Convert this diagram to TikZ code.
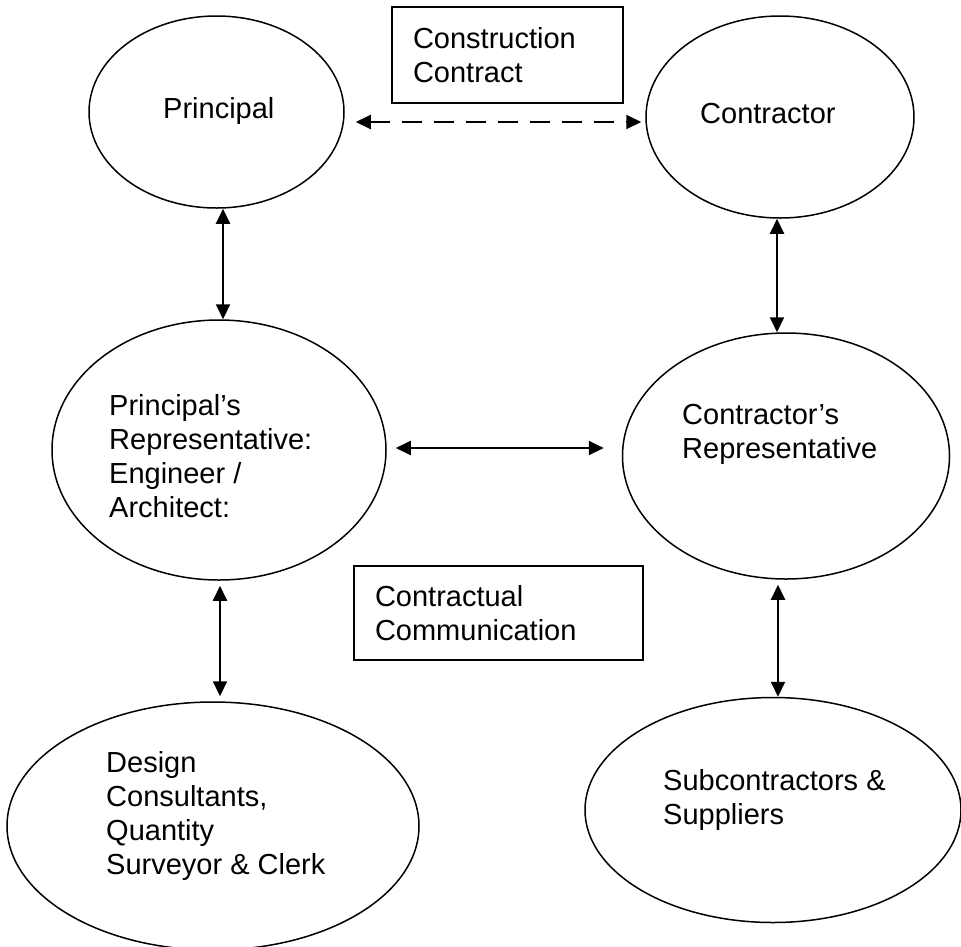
\documentclass[tikz,border=0pt]{standalone}
\usepackage{fontspec}
\setmainfont{Liberation Sans}
\usetikzlibrary{shapes.geometric,arrows.meta}
\begin{document}
\begin{tikzpicture}[x=1pt,y=-1pt,
  oval/.style={draw, ellipse, line width=1.5pt, inner sep=0pt},
  lbl/.style={inner sep=0pt, anchor=west, align=left, font=\fontsize{29}{34}\selectfont},
  boxnode/.style={draw, line width=2pt, rectangle, inner xsep=21pt, inner ysep=0pt, align=left, font=\fontsize{29}{34}\selectfont},
  link/.style={line width=2pt, {Triangle[length=15pt,width=14pt]}-{Triangle[length=15pt,width=14pt]}}
]
\useasboundingbox (0,0) rectangle (961,946);
% ellipses
\node[oval, minimum width=255pt, minimum height=192pt] (p) at (216.5,112) {};
\node[oval, minimum width=268pt, minimum height=202pt] (c) at (780,117) {};
\node[oval, minimum width=334pt, minimum height=260pt] (pr) at (219,450) {};
\node[oval, minimum width=327pt, minimum height=246pt] (cr) at (786,456) {};
\node[oval, minimum width=412pt, minimum height=248pt] (ds) at (213,826) {};
\node[oval, minimum width=376pt, minimum height=225pt] (sub) at (773,810) {};
% labels
\node[lbl] (pt) at (163,111) {Principal};
\node[lbl] (ct) at (700,114) {Contractor};
\node[lbl] (prt) at (109,456) {Principal’s\\Representative:\\Engineer /\\Architect:};
\node[lbl] (crt) at (682,434) {Contractor’s\\Representative};
\node[lbl] (dst) at (106,816) {Design\\Consultants,\\Quantity\\Surveyor \& Clerk};
\node[lbl] (subt) at (663,800) {Subcontractors \&\\Suppliers};
% boxes
\node[boxnode, text width=189pt, minimum height=96pt] (cc) at (507.5,55) {Construction\\Contract};
\node[boxnode, text width=247pt, minimum height=94pt] (com) at (498.5,613) {Contractual\\Communication};
% connectors
\draw[link, dash pattern=on 20pt off 12pt, shorten <=11pt, shorten >=4pt] (p.east |- 0,122) -- (c.west |- 0,122);
\draw[link] (p.south -| 223,0) -- (pr.north -| 223,0);
\draw[link] (c.south -| 777,0) -- (cr.north -| 777,0);
\draw[link, shorten <=9pt, shorten >=18pt] (pr.east |- 0,448) -- (cr.west |- 0,448);
\draw[link, shorten <=5pt, shorten >=5pt] (pr.south -| 220,0) -- (ds.north -| 220,0);
\draw[link, shorten <=5pt] (cr.south -| 778,0) -- (sub.north -| 778,0);
\end{tikzpicture}
\end{document}
